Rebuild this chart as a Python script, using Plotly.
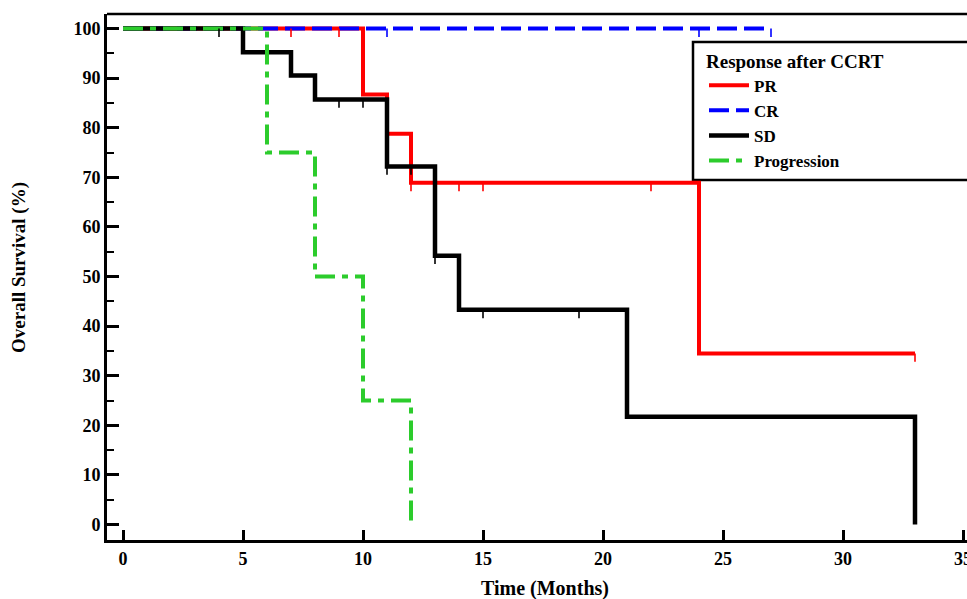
import numpy as np
import plotly.graph_objects as go

# ---- data ----
pr_time = [0, 10, 11, 12, 24, 33]
pr_surv = [100, 86.7, 78.8, 68.9, 34.5, 34.5]
pr_cens = [7, 9, 12, 14, 15, 22, 33]

cr_time = [0, 27]
cr_surv = [100, 100]
cr_cens = [11, 24, 27]

sd_time = [0, 5, 7, 8, 11, 13, 14, 21, 33]
sd_surv = [100, 95.2, 90.5, 85.7, 72.2, 54.2, 43.3, 21.7, 0]
sd_cens = [4, 9, 10, 11, 12, 13, 15, 19]

pg_time = [0, 6, 8, 10, 12]
pg_surv = [100, 75, 50, 25, 0]
pg_cens = []

series_names = ["PR", "CR", "SD", "Progression"]
x_ticks = [0, 5, 10, 15, 20, 25, 30, 35]
y_ticks = [0, 10, 20, 30, 40, 50, 60, 70, 80, 90, 100]
legend_title = "Response after CCRT"
x_title = "Time (Months)"
y_title = "Overall Survival (%)"

FONT = "Liberation Serif"
W, H = 967, 599
ML, MR, MT, MB = 107, 0, 14, 59

series = [
    (pr_time, pr_surv, pr_cens, "#ff0000", "solid", 4),
    (cr_time, cr_surv, cr_cens, "#0000ff", "20px,7px", 4),
    (sd_time, sd_surv, sd_cens, "#000000", "solid", 4.5),
    (pg_time, pg_surv, pg_cens, "#2ccc2c", "20px,7px,6px,7px", 4),
]

fig = go.Figure()
TICK = 1.7  # censor tick length (data units, hanging below the curve)

for name, (t, s, c, col, dash, lw) in zip(series_names, series):
    fig.add_trace(go.Scatter(
        x=t, y=s, mode="lines", name=name, line_shape="hv",
        line=dict(color=col, width=lw, dash=dash),
    ))

for (t, s, c, col, dash, lw) in series:
    if not c:
        continue
    xs, ys = [], []
    for ct in c:
        idx = int(np.searchsorted(np.array(t), ct, side="right")) - 1
        v = s[idx]
        xs += [ct, ct, None]
        ys += [v, v - TICK, None]
    fig.add_trace(go.Scatter(x=xs, y=ys, mode="lines", showlegend=False,
                             line=dict(color=col, width=1.6), hoverinfo="skip"))

pw = W - ML - MR
ph = H - MT - MB

def px_x(p):
    return (p - ML) / pw

def px_y(p):
    return (H - MB - p) / ph

# legend box (extends beyond the right edge like the reference)
fig.add_shape(type="rect", xref="paper", yref="paper",
              x0=px_x(693), x1=px_x(1000), y0=px_y(180), y1=px_y(42),
              line=dict(color="black", width=2.5), fillcolor="white", layer="below")
# top frame line
fig.add_shape(type="line", xref="paper", yref="paper", x0=0, x1=1.01, y0=1, y1=1,
              line=dict(color="black", width=2.5))

fig.add_annotation(text=x_title, xref="paper", yref="paper", x=px_x(545), y=px_y(588),
                   xanchor="center", yanchor="middle", showarrow=False,
                   font=dict(family=FONT, size=20, color="black", weight="bold"))
fig.add_annotation(text=y_title, xref="paper", yref="paper", x=px_x(19), y=px_y(268),
                   xanchor="center", yanchor="middle", showarrow=False, textangle=-90,
                   font=dict(family=FONT, size=19, color="black", weight="bold"))

fig.update_layout(
    width=W, height=H,
    margin=dict(l=ML, r=MR, t=MT, b=MB),
    paper_bgcolor="white", plot_bgcolor="white",
    font=dict(family=FONT, size=18, color="black", weight="bold"),
    legend=dict(
        x=px_x(704), y=px_y(43), xanchor="left", yanchor="top",
        bgcolor="rgba(0,0,0,0)", borderwidth=0,
        title=dict(text=legend_title, font=dict(family=FONT, size=19, color="black", weight="bold")),
        font=dict(family=FONT, size=17, color="black", weight="bold"),
        tracegroupgap=0, itemwidth=40,
    ),
    xaxis=dict(
        range=[(ML - 123) / 24, (W - 123) / 24],
        tickvals=x_ticks, ticks="inside", ticklen=10, tickwidth=2.5, tickcolor="black",
        showline=True, linecolor="black", linewidth=3, showgrid=False, zeroline=False,
        automargin=False, ticklabeloverflow="allow",
        tickfont=dict(family=FONT, size=18, color="black", weight="bold"),
    ),
    yaxis=dict(
        range=[(524.5 - (H - MB)) / 4.96, (524.5 - MT) / 4.96],
        tickvals=y_ticks, ticks="inside", ticklen=12, tickwidth=2.5, tickcolor="black",
        minor=dict(dtick=5, tick0=0, ticks="inside", ticklen=7, tickwidth=2, tickcolor="black"),
        showline=True, linecolor="black", linewidth=3, showgrid=False, zeroline=False,
        automargin=False, tickfont=dict(family=FONT, size=18, color="black", weight="bold"),
    ),
    showlegend=True,
)

fig.write_html("out.html")
